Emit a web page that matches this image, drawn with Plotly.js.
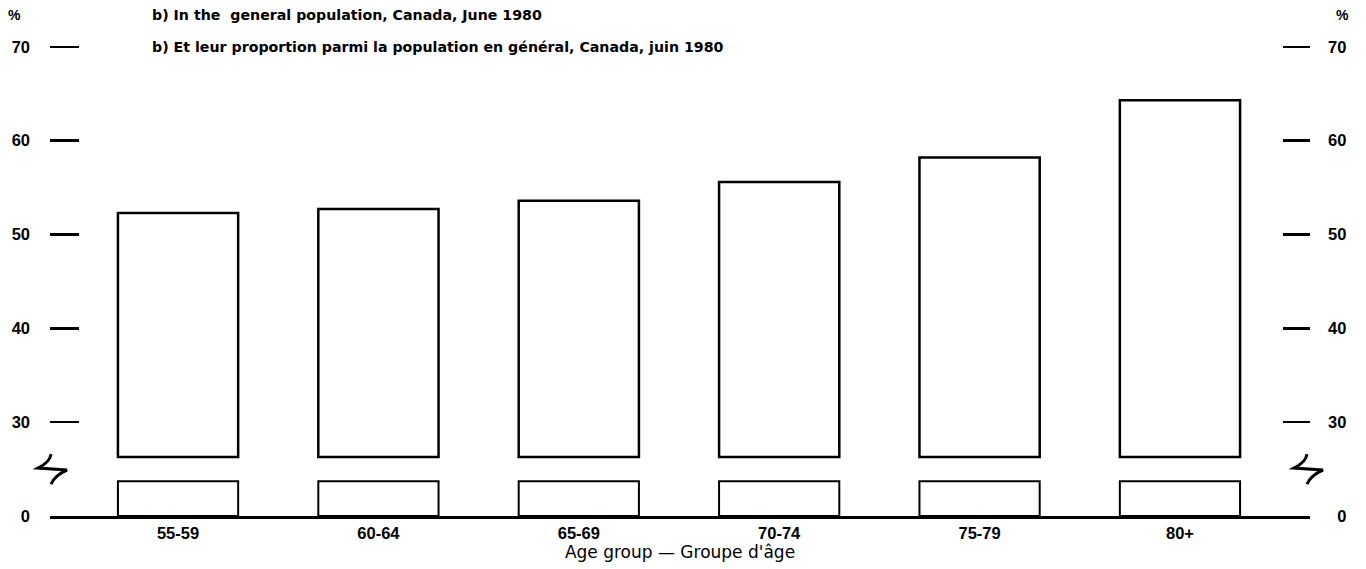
<!DOCTYPE html>
<html>
<head>
<meta charset="utf-8">
<script src="https://cdn.plot.ly/plotly-3.0.1.min.js"></script>
<style>html,body{margin:0;padding:0;background:#fff;}</style>
</head>
<body>
<div id="chart" style="width:1366px;height:569px;"></div>
<script>
// Data
const categories = ['55-59', '60-64', '65-69', '70-74', '75-79', '80+'];
const values = [52.3, 52.7, 53.6, 55.6, 58.2, 64.3];
// broken axis: the "0" label sits at display value 20
const axisFloor = 20;
const breakLow = 23.7;
const breakHigh = 26.3;
const yTickVals = [20, 30, 40, 50, 60, 70];
const yTickText = ['0', '30', '40', '50', '60', '70'];
const yTickTextRight = ['&nbsp;&nbsp;0', '30', '40', '50', '60', '70'];
const titleEn = 'b) In the  general population, Canada, June 1980';
const titleFr = 'b) Et leur proportion parmi la population en général, Canada, juin 1980';
const xTitle = 'Age group — Groupe d\'âge';

const FONT = '"Liberation Sans", Arial, Helvetica, sans-serif';
const WIDE = '"DejaVu Sans", Verdana, sans-serif';

const barStyle = {color: '#ffffff', line: {color: '#000000', width: 2.5}};

const upper = {
  type: 'bar', x: categories,
  base: values.map(() => breakHigh),
  y: values.map(v => v - breakHigh),
  width: 0.6, marker: barStyle, hoverinfo: 'skip', showlegend: false
};
const lower = {
  type: 'bar', x: categories,
  base: values.map(() => axisFloor),
  y: values.map(() => breakLow - axisFloor),
  width: 0.6, marker: {color: '#ffffff', line: {color: '#000000', width: 2}},
  hoverinfo: 'skip', showlegend: false
};
const rightDummy = {
  type: 'scatter', x: [categories[0]], y: [axisFloor], yaxis: 'y2',
  mode: 'markers', marker: {opacity: 0}, hoverinfo: 'skip', showlegend: false
};

const breakPath = 'M -1 15 Q -2 7 -14 1 L 15 -1 Q 3 -6 -1 -15';
const breakMid = (breakLow + breakHigh) / 2;

const tickFont = {family: FONT, size: 16.5, color: '#000', weight: 'bold'};

const layout = {
  width: 1366, height: 569,
  margin: {l: 50, r: 56, t: 28, b: 53},
  paper_bgcolor: '#ffffff', plot_bgcolor: '#ffffff',
  barmode: 'overlay',
  font: {family: FONT, size: 13, color: '#000000'},
  xaxis: {
    type: 'category', range: [-0.639, 5.649],
    showline: true, linewidth: 3, linecolor: '#000000',
    ticks: '', showgrid: false, zeroline: false,
    tickfont: tickFont,
    title: {text: xTitle, font: {family: WIDE, size: 17, color: '#000'}, standoff: 2}
  },
  yaxis: {
    range: [20, 72], tickmode: 'array', tickvals: yTickVals, ticktext: yTickText,
    ticks: 'inside', ticklen: 29, tickwidth: 2.5, tickcolor: '#000000',
    showline: false, showgrid: false, zeroline: false,
    ticklabelstandoff: 19,
    tickfont: tickFont
  },
  yaxis2: {
    overlaying: 'y', side: 'right',
    range: [20, 72], tickmode: 'array', tickvals: yTickVals, ticktext: yTickTextRight,
    ticks: 'inside', ticklen: 27, tickwidth: 2.5, tickcolor: '#000000',
    showline: false, showgrid: false, zeroline: false,
    ticklabelstandoff: 17,
    tickfont: tickFont
  },
  annotations: [
    {xref: 'paper', yref: 'paper', x: -0.0278, y: 1.026, text: '<b>%</b>', showarrow: false,
     xanchor: 'center', yanchor: 'middle', font: {family: FONT, size: 14}},
    {xref: 'paper', yref: 'paper', x: 1.0254, y: 1.026, text: '<b>%</b>', showarrow: false,
     xanchor: 'center', yanchor: 'middle', font: {family: FONT, size: 14}},
    {xref: 'paper', yref: 'paper', x: 0.0794, y: 1.026, text: '<b>' + titleEn + '</b>', showarrow: false,
     xanchor: 'left', yanchor: 'middle', font: {family: WIDE, size: 14.2}},
    {xref: 'paper', yref: 'paper', x: 0.0794, y: 0.9605, text: '<b>' + titleFr + '</b>', showarrow: false,
     xanchor: 'left', yanchor: 'middle', font: {family: WIDE, size: 14.2}}
  ],
  shapes: [
    {type: 'path', xref: 'paper', yref: 'y', xsizemode: 'pixel', ysizemode: 'pixel',
     xanchor: 0.0016, yanchor: breakMid, path: breakPath,
     line: {color: '#000000', width: 3}},
    {type: 'path', xref: 'paper', yref: 'y', xsizemode: 'pixel', ysizemode: 'pixel',
     xanchor: 0.9984, yanchor: breakMid, path: breakPath,
     line: {color: '#000000', width: 3}}
  ]
};

Plotly.newPlot('chart', [lower, upper, rightDummy], layout, {displayModeBar: false, staticPlot: true});
</script>
</body>
</html>
